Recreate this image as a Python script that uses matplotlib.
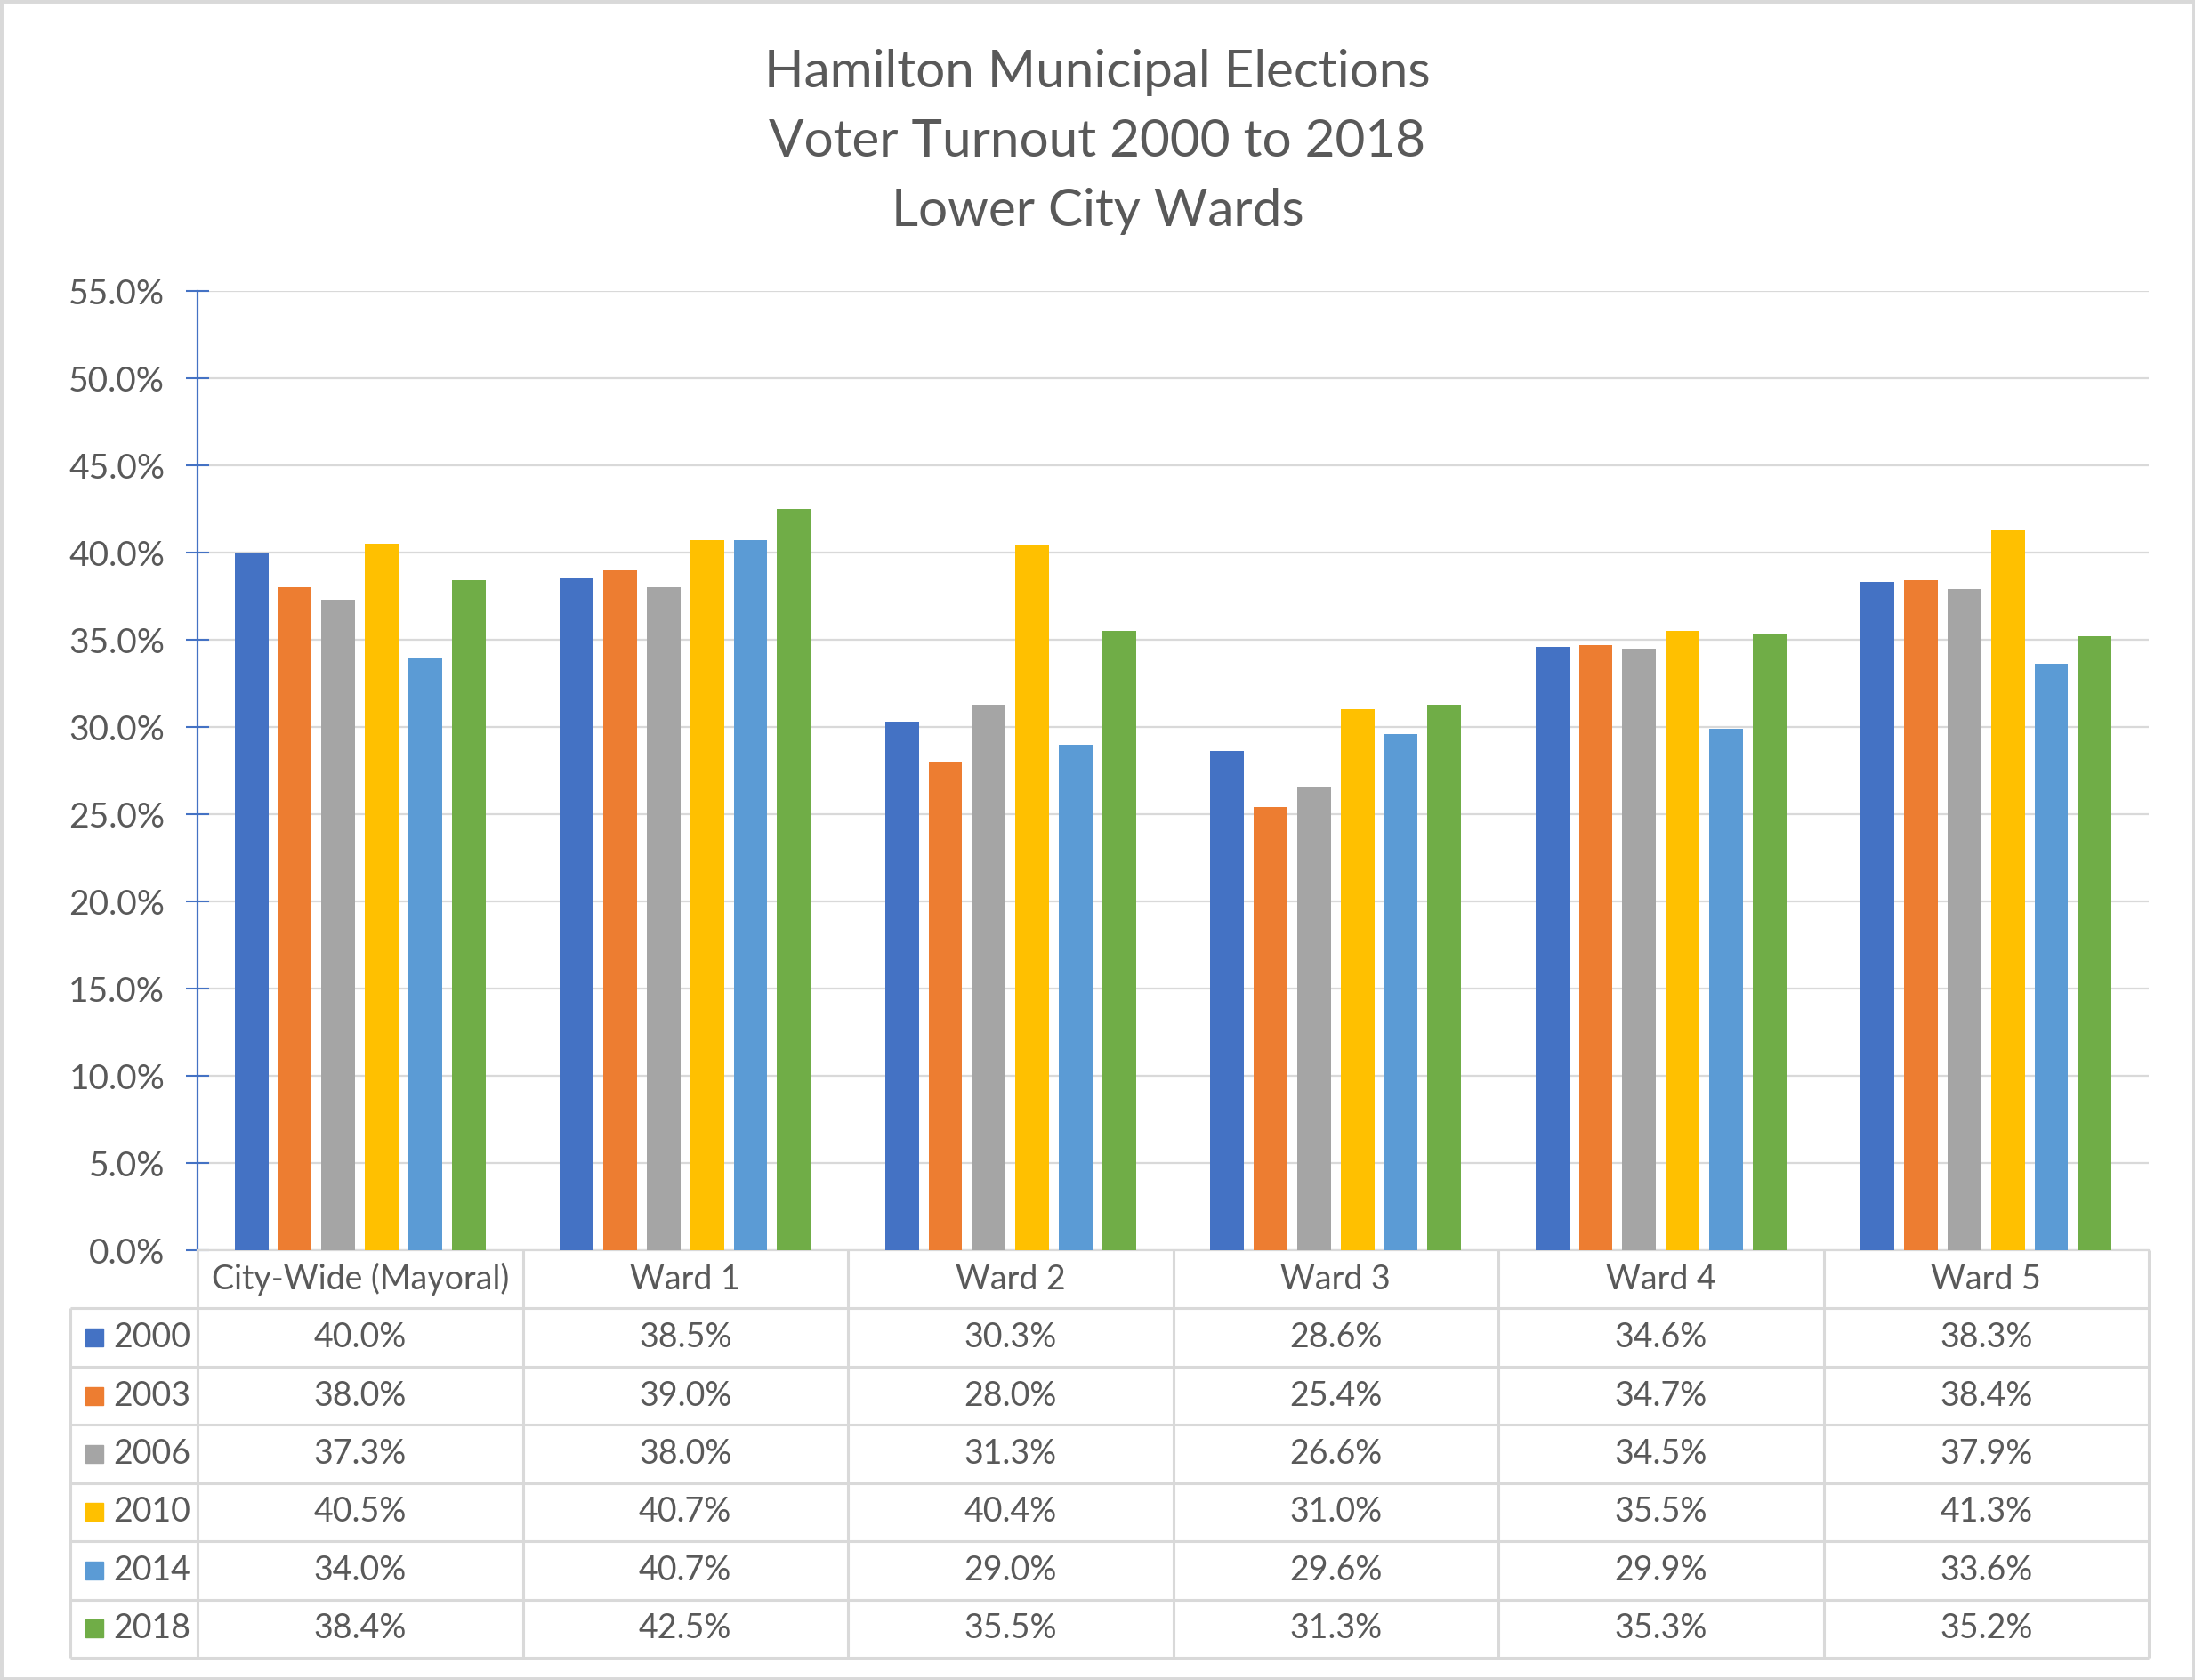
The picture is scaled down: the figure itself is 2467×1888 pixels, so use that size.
import numpy as np
import matplotlib.pyplot as plt
from matplotlib.patches import Rectangle

categories = ["City-Wide (Mayoral)", "Ward 1", "Ward 2", "Ward 3", "Ward 4", "Ward 5"]
years = ["2000", "2003", "2006", "2010", "2014", "2018"]
turnout_2000 = [40.0, 38.5, 30.3, 28.6, 34.6, 38.3]
turnout_2003 = [38.0, 39.0, 28.0, 25.4, 34.7, 38.4]
turnout_2006 = [37.3, 38.0, 31.3, 26.6, 34.5, 37.9]
turnout_2010 = [40.5, 40.7, 40.4, 31.0, 35.5, 41.3]
turnout_2014 = [34.0, 40.7, 29.0, 29.6, 29.9, 33.6]
turnout_2018 = [38.4, 42.5, 35.5, 31.3, 35.3, 35.2]
series = [turnout_2000, turnout_2003, turnout_2006, turnout_2010, turnout_2014, turnout_2018]
colors = ["#4472C4", "#ED7D31", "#A5A5A5", "#FFC000", "#5B9BD5", "#70AD47"]
title_lines = ["Hamilton Municipal Elections", "Voter Turnout 2000 to 2018", "Lower City Wards"]

plt.rcParams["font.family"] = ["Lato", "DejaVu Sans"]
text_color = "#595959"
grid_color = "#D9D9D9"

W, H = 2467, 1888
fig = plt.figure(figsize=(W / 100, H / 100), dpi=100)

# plot area in pixels
left_px, right_px = 222, 2415
zero_px, top_px = 1405, 327
table_bottom_px = 1863

ax = fig.add_axes([left_px / W, 1 - zero_px / H, (right_px - left_px) / W, (zero_px - top_px) / H])
x = np.arange(len(categories))
step = 0.1336
width = 0.1034
for i, vals in enumerate(series):
    ax.bar(x + (i - 2.5) * step, vals, width, color=colors[i], zorder=3)

ax.set_xlim(-0.5, len(categories) - 0.5)
ax.set_ylim(0, 55)
yticks = np.arange(0, 56, 5)
ax.set_yticks(yticks)
ax.set_yticklabels([f"{v:.1f}%" for v in yticks], fontsize=28, color=text_color)
ax.tick_params(axis="y", direction="inout", length=19, width=1.5, color="#4472C4", pad=17)
ax.set_xticks([])
ax.yaxis.grid(True, color=grid_color, lw=1.6, zorder=0)
ax.set_axisbelow(True)
for s in ["top", "right"]:
    ax.spines[s].set_visible(False)
ax.spines["left"].set_color("#4472C4")
ax.spines["left"].set_linewidth(1.6)
ax.spines["bottom"].set_color(grid_color)
ax.spines["bottom"].set_linewidth(1.6)

for k, line in enumerate(title_lines):
    fig.text(0.5, 1 - (82 + 77.5 * k) / H, line, ha="center", va="center",
             fontsize=42, color=text_color)

# data table under the chart
n_rows = len(years) + 1
tax = fig.add_axes([left_px / W, 1 - table_bottom_px / H, (right_px - left_px) / W,
                    (table_bottom_px - zero_px) / H])
tax.set_xlim(-0.5, len(categories) - 0.5)
tax.set_ylim(n_rows, 0)
tax.axis("off")
cat_w = (right_px - left_px) / len(categories)
leg_left = -0.5 - (left_px - 79) / cat_w

lk = dict(color=grid_color, lw=2.2, clip_on=False, solid_capstyle="butt")
for c in range(len(categories) + 1):
    tax.plot([c - 0.5, c - 0.5], [0, n_rows], **lk)
tax.plot([leg_left, leg_left], [1, n_rows], **lk)
for r in range(1, n_rows + 1):
    tax.plot([leg_left, len(categories) - 0.5], [r, r], **lk)

for c, cat in enumerate(categories):
    tax.text(c, 0.5, cat, ha="center", va="center", fontsize=27, color=text_color)

sq_w = 20 / cat_w
sq_h = 20 / ((table_bottom_px - zero_px) / n_rows)
for r, (year, vals) in enumerate(zip(years, series), start=1):
    tax.add_patch(Rectangle((-0.5 - (left_px - 96) / cat_w, r + 0.5 - sq_h / 2), sq_w, sq_h,
                            color=colors[r - 1], clip_on=False))
    tax.text(-0.5 - (left_px - 127) / cat_w, r + 0.5, year, ha="left", va="center",
             fontsize=27, color=text_color, clip_on=False)
    for c, v in enumerate(vals):
        tax.text(c, r + 0.5, f"{v:.1f}%", ha="center", va="center", fontsize=27, color=text_color)

fig.patches.append(Rectangle((0, 0), 1, 1, transform=fig.transFigure, fill=False,
                             edgecolor=grid_color, lw=5))

fig.savefig("out.png", dpi=100)
